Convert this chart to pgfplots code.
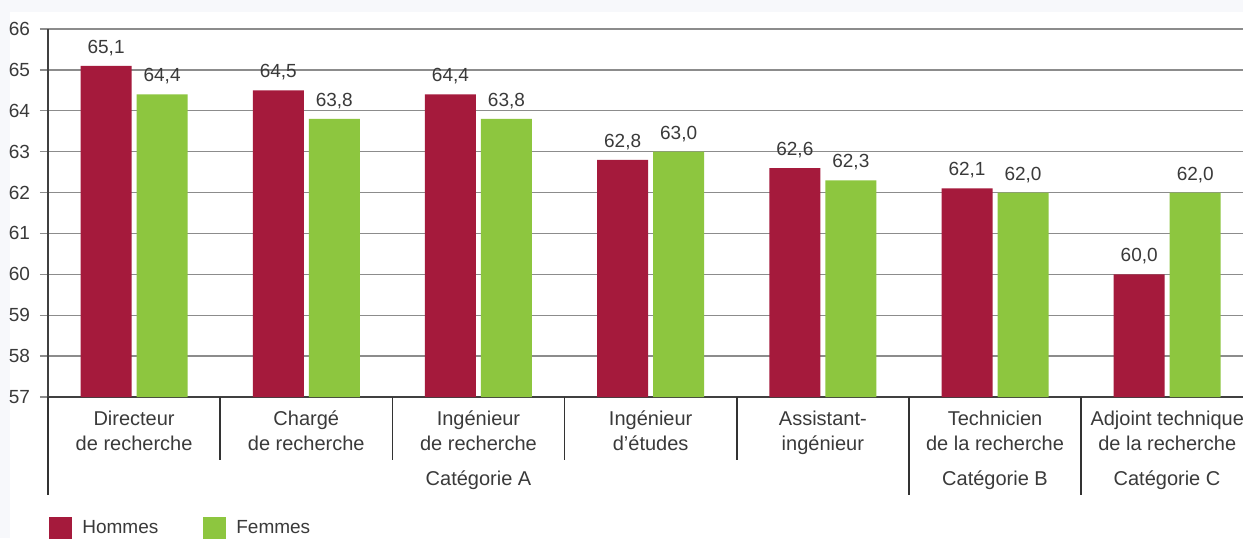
\documentclass[border=0pt]{standalone}
\usepackage{fontspec}
\setmainfont{Liberation Sans}
\usepackage{pgfplots}
\pgfplotsset{compat=1.18}
\pgfdeclarelayer{background}
\pgfsetlayers{background,main}
\definecolor{rouge}{HTML}{A51A3C}
\definecolor{vert}{HTML}{8DC63F}
\definecolor{fond}{HTML}{F7F8FB}
\definecolor{grille}{HTML}{8C8C8C}
\definecolor{texte}{HTML}{3A3A3A}

\begin{document}
\begin{tikzpicture}[font=\fontsize{10}{12.5}\selectfont,text=texte]
\begin{axis}[
	name=ax,
	scale only axis,
	width=597.5pt, height=184pt,
	ymin=57, ymax=66, ytick={57,...,66},
	xmin=-0.5, xmax=6.44,
	xtick={0,...,6},
	xticklabels={Directeur\\de recherche, Chargé\\de recherche, Ingénieur\\de recherche, Ingénieur\\d'études, Assistant-\\ingénieur, Technicien\\de la recherche, Adjoint technique\\de la recherche},
	xticklabel style={align=center, yshift=0.6pt},
	yticklabel style={xshift=-1.5pt, font=\fontsize{9.5}{11}\selectfont},
	xtick style={draw=none},
	axis x line*=bottom, axis y line*=left,
	axis line style={-, black!75, line width=0.8pt},
	ymajorgrids, grid style={grille, line width=0.7pt},
	ytick style={grille, line width=0.7pt},
	tick align=outside, major tick length=4pt,
	ybar, bar width=25.5pt,
	nodes near coords={\pgfmathprintnumber[fixed, fixed zerofill, precision=1, use comma]{\pgfplotspointmeta}},
	nodes near coords style={anchor=south, yshift=1.5pt, font=\fontsize{9.5}{11}\selectfont},
	legend style={at={(0.0008,-0.356)}, anchor=west, draw=none, fill=none,
		inner sep=0pt, legend columns=2, font=\fontsize{9.5}{11}\selectfont,
		/tikz/every even column/.append style={column sep=20.5pt}},
	legend image code/.code={\fill[#1] (0pt,-5.75pt) rectangle (11.5pt,5.75pt); \path (14.5pt,0pt);},
	/pgf/number format/assume math mode=true
]
\addplot[fill=rouge, draw=none, bar shift=-14pt] coordinates {
	(0,65.1) (1,64.5) (2,64.4) (3,62.8) (4,62.6) (5,62.1) (6,60.0)};
\addlegendentry{Hommes}
\addplot[fill=vert, draw=none, bar shift=14pt] coordinates {
	(0,64.4) (1,63.8) (2,63.8) (3,63.0) (4,62.3) (5,62.0) (6,62.0)};
\addlegendentry{Femmes}
\coordinate (O) at (rel axis cs:0,0);
\end{axis}
\begin{scope}[shift={(O)}, x=0.5pt, y=0.5pt]
\begin{pgfonlayer}{background}
\fill[fond] (-48,-141) rectangle (1195,397);
\fill[white] (-38,-141) rectangle (1195,385);
\end{pgfonlayer}
\pgfresetboundingbox
\useasboundingbox (-48,-141) rectangle (1195,397);
% separateurs des groupes
\draw[black!80, line width=0.8pt] (0,0) -- (0,-98);
\foreach \xx in {172.2,344.4,516.6,688.8}
	\draw[black!80, line width=0.8pt] (\xx,0) -- (\xx,-63);
\foreach \xx in {861,1033.2}
	\draw[black!80, line width=0.8pt] (\xx,0) -- (\xx,-98);
\node at (430.5,-83) {Catégorie A};
\node at (947,-83) {Catégorie B};
\node at (1119,-83) {Catégorie C};
\end{scope}
\end{tikzpicture}
\end{document}
